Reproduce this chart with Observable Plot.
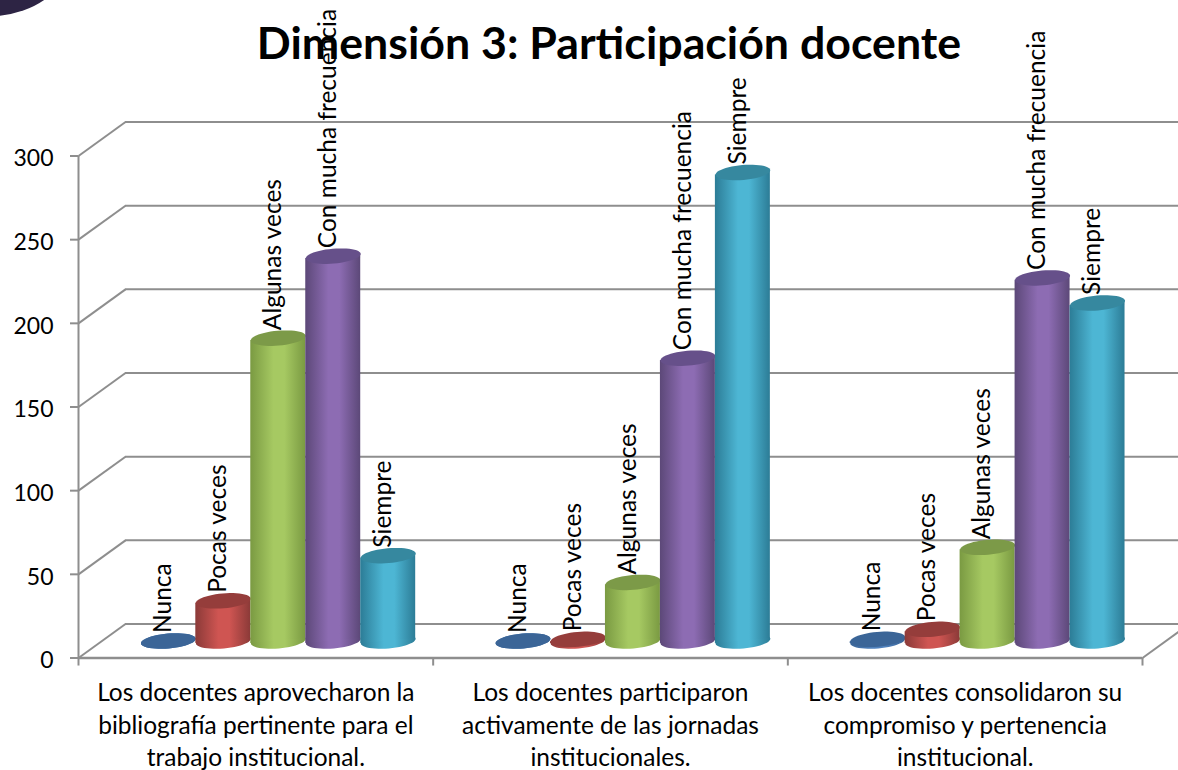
<!DOCTYPE html>
<html lang="es">
<head>
<meta charset="utf-8">
<style>
  html, body { margin: 0; padding: 0; background: #fff; width: 1178px; height: 770px; overflow: hidden; position: relative; }
  #swoosh { position: absolute; left: -70px; top: -56px; width: 130px; height: 72px; border-radius: 50%; background: #2d2444; transform: rotate(-6deg); }
  h1 { position: absolute; left: 0; top: 15px; width: 1218px; margin: 0; text-align: center; font: 700 44.7px Lato, sans-serif; color: #000; white-space: nowrap; }
  #chart { position: absolute; left: 0; top: 0; }
</style>
<script src="https://cdn.jsdelivr.net/npm/d3@7"></script>
<script src="https://cdn.jsdelivr.net/npm/@observablehq/plot@0.6"></script>
</head>
<body>
<div id="swoosh"></div>
<h1>Dimensión 3: Participación docente</h1>
<div id="chart"></div>
<script>
const categories = [
  "Los docentes aprovecharon la\nbibliografía pertinente para el\ntrabajo institucional.",
  "Los docentes participaron\nactivamente de las jornadas\ninstitucionales.",
  "Los docentes consolidaron su\ncompromiso y pertenencia\ninstitucional."
];
const seriesNames = ["Nunca", "Pocas veces", "Algunas veces", "Con mucha frecuencia", "Siempre"];
const nunca = [0, 0, 1];
const pocasVeces = [24, 1, 7];
const algunasVeces = [181, 35, 56];
const conMuchaFrecuencia = [230, 169, 217];
const siempre = [51, 280, 202];
const seriesValues = [nunca, pocasVeces, algunasVeces, conMuchaFrecuencia, siempre];
const yTicks = [0, 50, 100, 150, 200, 250, 300];
const xTicks = [0, 1, 2, 3];
const edgeColors = ["#3b6597", "#8b3a38", "#7a9a42", "#5c4878", "#2c7c96"];
const midColors = ["#4f81bd", "#cf5552", "#a6c962", "#8d6cb3", "#4db6d4"];
const topColors = ["#3b6597", "#953d3b", "#7c9a48", "#66508a", "#36889f"];

// depth of the 3-D box and bar step, in data units
const depthX = 0.1325, depthY = 20.3, step = 0.155, halfBar = step / 2, skew = 1.43;
const gridColor = "#8e8e8e";

const defs = d3.select("body").append("svg").attr("width", 0).attr("height", 0)
  .style("position", "absolute").append("defs");
seriesNames.forEach((_, i) => {
  const g = defs.append("linearGradient").attr("id", "cyl" + i).attr("x1", 0).attr("x2", 1).attr("y1", 0).attr("y2", 0);
  [[0, edgeColors[i]], [0.42, midColors[i]], [0.62, midColors[i]], [1, edgeColors[i]]].forEach(([o, c]) =>
    g.append("stop").attr("offset", o).attr("stop-color", c));
});

// a slightly tilted ellipse, the end cap of a cylinder
const cap = {
  draw(ctx, size) {
    const a = Math.sqrt(size / Math.PI), b = a * 0.27, t = -5 * Math.PI / 180;
    for (let k = 0; k <= 48; k++) {
      const u = k / 48 * 2 * Math.PI;
      const ex = a * Math.cos(u), ey = b * Math.sin(u);
      const px = ex * Math.cos(t) - ey * Math.sin(t), py = ex * Math.sin(t) + ey * Math.cos(t);
      k ? ctx.lineTo(px, py) : ctx.moveTo(px, py);
    }
    ctx.closePath();
  }
};

const base = depthY / 2;
const bars = seriesNames.flatMap((name, s) => categories.map((_, g) => ({
  name, s, g, value: seriesValues[s][g],
  x: g + 0.5 + (s - 2) * step + depthX / 2 - 0.003
})));

const wall = [
  Plot.link(yTicks, {x1: 0, x2: depthX, y1: d => d, y2: d => d + depthY, stroke: gridColor, strokeWidth: 2}),
  Plot.ruleY(yTicks, {x1: depthX, x2: 3 + depthX, y: d => d + depthY, stroke: gridColor, strokeWidth: 2}),
  Plot.link([0], {x1: 3, x2: 3 + depthX, y1: 0, y2: depthY, stroke: gridColor, strokeWidth: 2}),
  Plot.ruleX([0], {y1: 0, y2: 300, stroke: gridColor, strokeWidth: 2}),
  Plot.ruleY([0], {x1: 0, x2: 3, stroke: gridColor, strokeWidth: 2.5}),
  Plot.ruleY(yTicks, {x1: -0.0225, x2: 0, stroke: gridColor, strokeWidth: 2}),
  Plot.ruleX(xTicks, {y1: -4.8, y2: 0, stroke: gridColor, strokeWidth: 2})
];

const cylinders = seriesNames.flatMap((name, s) => {
  const own = bars.filter(d => d.s === s);
  const body = own.flatMap(d => [
    {id: d.g, x: d.x - halfBar, y1: base - skew, y2: base + d.value - skew},
    {id: d.g, x: d.x + halfBar, y1: base + skew, y2: base + d.value + skew}
  ]);
  return [
    Plot.dot(own, {x: "x", y: base, r: 27.5, symbol: cap, fill: `url(#cyl${s})`}),
    Plot.area(body, {x1: "x", y1: "y1", y2: "y2", z: "id", fill: `url(#cyl${s})`}),
    Plot.dot(own, {x: "x", y: d => base + d.value, r: 27.5, symbol: cap, fill: topColors[s]})
  ];
});

const plot = Plot.plot({
  width: 1178,
  height: 770,
  marginLeft: 78,
  marginRight: 36,
  marginTop: 155.5,
  marginBottom: 112.5,
  style: {fontFamily: "Lato, sans-serif", background: "transparent", overflow: "visible"},
  x: {type: "linear", domain: [0, 3], axis: null},
  y: {domain: [0, 300], axis: null},
  marks: [
    ...wall,
    Plot.text(yTicks, {x: 0, y: d => d, text: d => String(d), textAnchor: "end", dx: -25, dy: 3, fontSize: 23, fill: "#000"}),
    ...cylinders,
    Plot.text(bars, {
      x: "x", y: d => base + d.value, text: "name", rotate: -90,
      textAnchor: "start", lineAnchor: "middle", dx: -5, dy: -8, fontSize: 24.5, fill: "#000"
    }),
    Plot.text(categories, {
      x: (d, i) => i + 0.5, y: 0, text: d => d, textAnchor: "middle", lineAnchor: "top",
      dy: 20, fontSize: 24.5, lineHeight: 1.33, fill: "#000"
    })
  ]
});
document.getElementById("chart").append(plot);
</script>
</body>
</html>
